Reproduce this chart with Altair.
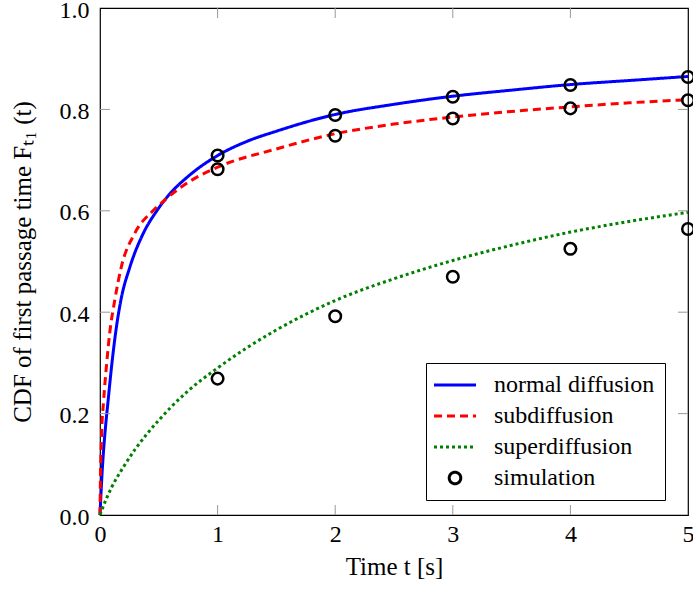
import altair as alt
import pandas as pd

W, H = 588, 507
FONT = "Liberation Serif"

# ---- data ----
t_normal = [0, 0.008, 0.017, 0.028, 0.042, 0.07, 0.098, 0.132, 0.177, 0.254, 0.367,
            0.483, 0.6, 0.75, 1.0, 1.25, 1.5, 2.0, 2.5, 3.0, 3.5, 4.0, 4.5, 5.0]
f_normal = [0, 0.04, 0.08, 0.12, 0.161, 0.228, 0.292, 0.358, 0.423, 0.489, 0.555,
            0.6, 0.635, 0.668, 0.709, 0.737, 0.757, 0.79, 0.81, 0.826, 0.838, 0.849,
            0.857, 0.865]

t_sub = [0, 0.003, 0.012, 0.031, 0.054, 0.082, 0.125, 0.181, 0.294, 0.45, 0.53,
         0.709, 1.0, 1.5, 2.0, 2.5, 3.0, 3.5, 4.0, 4.5, 5.0]
f_sub = [0, 0.06, 0.15, 0.226, 0.292, 0.358, 0.423, 0.489, 0.555, 0.6, 0.617,
         0.65, 0.686, 0.722, 0.752, 0.771, 0.785, 0.796, 0.805, 0.813, 0.819]

t_super = [0, 0.05, 0.1, 0.2, 0.3, 0.4, 0.5, 0.6, 0.75, 1.0, 1.25, 1.5,
           2.0, 2.5, 3.0, 3.5, 4.0, 4.5, 5.0]
f_super = [0, 0.03, 0.055, 0.095, 0.13, 0.16, 0.187, 0.212, 0.245, 0.29, 0.33, 0.365,
           0.423, 0.466, 0.502, 0.532, 0.558, 0.579, 0.597]

t_sim = [1, 2, 3, 4, 5]
sim_normal = [0.709, 0.789, 0.825, 0.848, 0.864]
sim_sub = [0.682, 0.748, 0.782, 0.802, 0.818]
sim_super = [0.269, 0.392, 0.470, 0.525, 0.564]

x_ticks = [1, 2, 3, 4]
y_ticks = [0.2, 0.4, 0.6, 0.8]

series = ["normal diffusion", "subdiffusion", "superdiffusion", "simulation"]
colors = ["#0000ff", "#ff0000", "#008000", "#000000"]
dashes = [[1, 0], [8, 5], [3, 3], [1, 0]]
LINE = "M-2,0L2,0"
CIRC = "M0,-0.55A0.55,0.55 0 1 1 0,0.55A0.55,0.55 0 1 1 0,-0.55Z"
shapes = [LINE, LINE, LINE, CIRC]

lines = pd.concat([
    pd.DataFrame({"t": t_normal, "F": f_normal, "series": series[0], "k": 0}),
    pd.DataFrame({"t": t_sub, "F": f_sub, "series": series[1], "k": 1}),
    pd.DataFrame({"t": t_super, "F": f_super, "series": series[2], "k": 2}),
])
sims = pd.DataFrame({
    "t": t_sim * 3,
    "F": sim_normal + sim_sub + sim_super,
    "series": series[3],
})
xt = pd.DataFrame({"t": x_ticks})
yt = pd.DataFrame({"F": y_ticks})

color_scale = alt.Scale(domain=series, range=colors)
dash_scale = alt.Scale(domain=series, range=dashes)
shape_scale = alt.Scale(domain=series, range=shapes)
xs = alt.Scale(domain=[0, 5], nice=False, zero=False)
ys = alt.Scale(domain=[0, 1], nice=False, zero=False)

legend = alt.Legend(
    title=None, orient="none", legendX=326, legendY=355,
    fillColor="white", strokeColor="black", padding=10,
    labelFont=FONT, labelFontSize=24, labelColor="black", labelOffset=27,
    labelLimit=400,
    symbolOffset=7,
    symbolSize=441, symbolStrokeWidth=3, rowPadding=7,
)

x_axis = alt.Axis(values=[0, 1, 2, 3, 4, 5], format="d", title="Time t [s]",
                  grid=False, ticks=False, domain=False, labelFont=FONT,
                  labelFontSize=24, labelColor="black", labelPadding=7,
                  labelFlush=False, labelOverlap=False,
                  titleFont=FONT, titleFontSize=25, titleFontWeight="normal",
                  titleColor="black", titlePadding=8)
y_axis = alt.Axis(values=[0, 0.2, 0.4, 0.6, 0.8, 1.0], format=".1f",
                  title="CDF of first passage time Fₜ₁ (t)",
                  grid=False, ticks=False, domain=False, labelFont=FONT,
                  labelFontSize=24, labelColor="black", labelPadding=11,
                  labelFlush=False, labelOverlap=False, labelOffset=2,
                  titleFont=FONT, titleFontSize=25, titleFontWeight="normal",
                  titleColor="black", titlePadding=24)

X = alt.X("t:Q", scale=xs, axis=x_axis)
Y = alt.Y("F:Q", scale=ys, axis=y_axis)

line_layer = alt.Chart(lines).mark_line(strokeWidth=3, clip=False,
                                        interpolate="monotone").encode(
    x=X, y=Y,
    color=alt.Color("series:N", scale=color_scale, legend=legend),
    strokeDash=alt.StrokeDash("series:N", scale=dash_scale, legend=legend),
    detail="k:N",
    order="t:Q",
)

point_layer = alt.Chart(sims).mark_point(filled=False, strokeWidth=2.5, size=441,
                                         opacity=1, clip=False).encode(
    x=X, y=Y,
    color=alt.Color("series:N", scale=color_scale, legend=legend),
    shape=alt.Shape("series:N", scale=shape_scale, legend=legend),
)

tick_color = "#999999"
bottom_ticks = alt.Chart(xt).mark_rule(color=tick_color, strokeWidth=1).encode(
    x=X, y=alt.value(H), y2=alt.value(H - 10))
top_ticks = alt.Chart(xt).mark_rule(color=tick_color, strokeWidth=1).encode(
    x=X, y=alt.value(0), y2=alt.value(10))
left_ticks = alt.Chart(yt).mark_rule(color=tick_color, strokeWidth=1).encode(
    y=Y, x=alt.value(0), x2=alt.value(10))
right_ticks = alt.Chart(yt).mark_rule(color=tick_color, strokeWidth=1).encode(
    y=Y, x=alt.value(W - 10), x2=alt.value(W))

chart = alt.layer(
    line_layer, point_layer, bottom_ticks, top_ticks, left_ticks, right_ticks
).properties(
    width=W, height=H,
    background="white",
    autosize=alt.AutoSizeParams(type="none"),
    padding={"left": 100, "top": 8, "right": 5, "bottom": 75},
).configure_view(
    stroke="black", strokeWidth=1.2
)

chart.save("out.html", embed_options={"renderer": "svg", "actions": False})
